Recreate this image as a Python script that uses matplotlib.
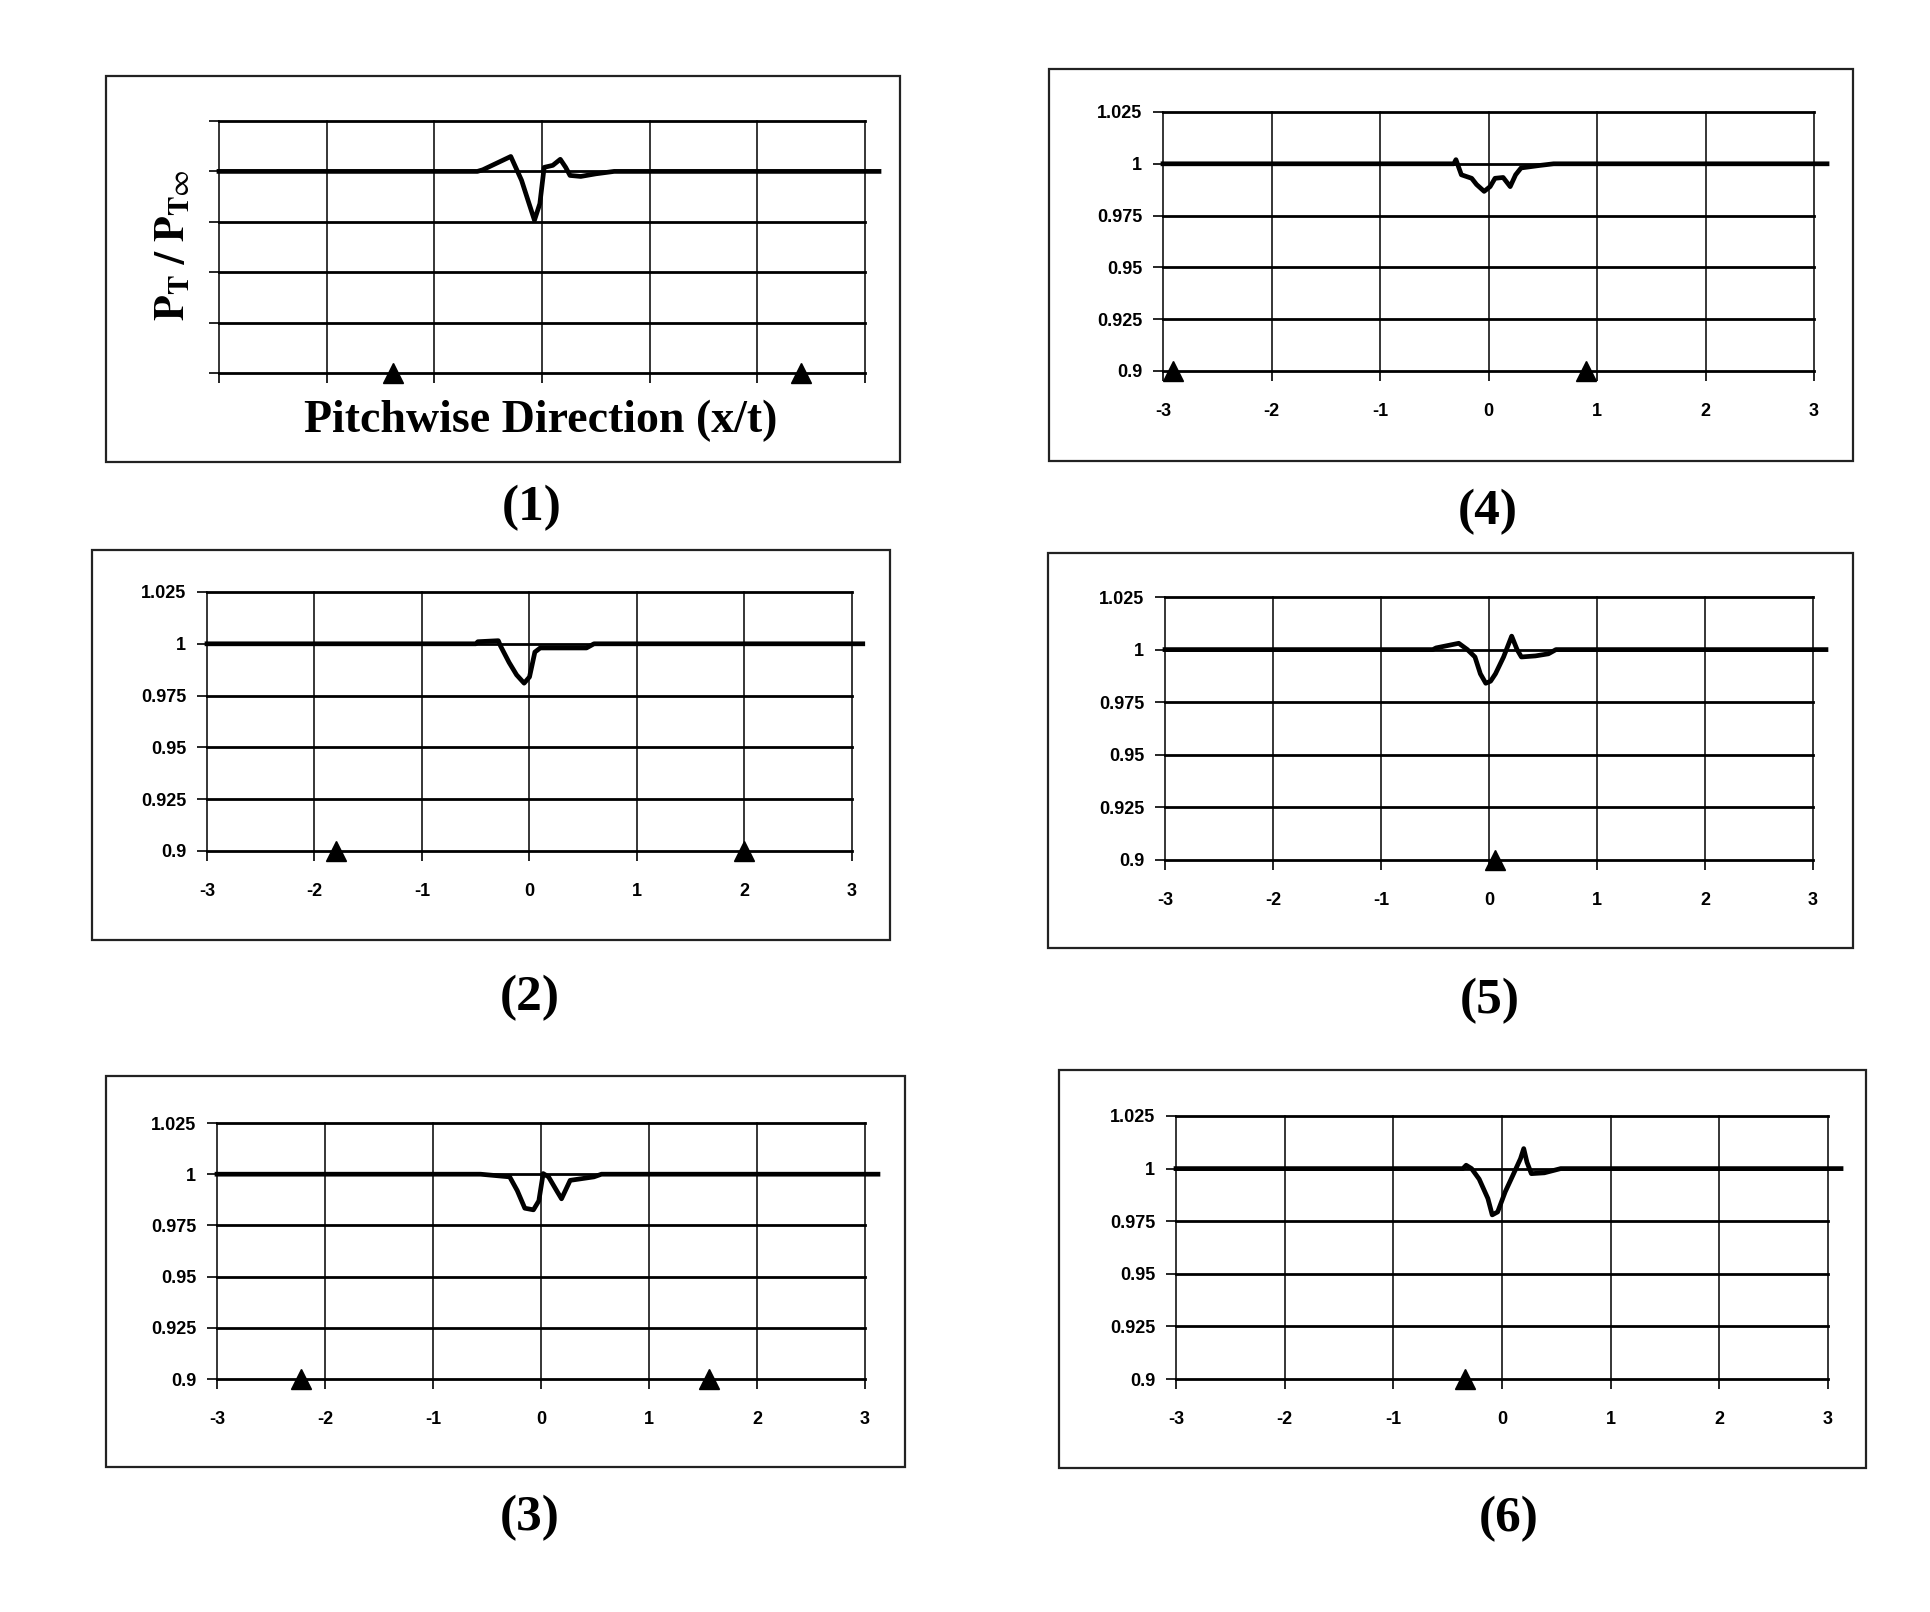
import matplotlib
matplotlib.use("Agg")
import matplotlib.pyplot as plt
from matplotlib.patches import Rectangle

plt.rcParams["mathtext.fontset"] = "stix"

W, H = 1931, 1612

# pitchwise position (x/t) and total pressure ratio for each station
x1 = [-3.0, -0.60, -0.55, -0.29, -0.19, -0.12, -0.07, -0.02, 0.02, 0.10, 0.17, 0.22, 0.26, 0.36, 0.50, 0.67, 3.13]
y1 = [1.0, 1.0, 1.0008, 1.0074, 0.9956, 0.984, 0.9758, 0.984, 1.002, 1.003, 1.006, 1.002, 0.998, 0.9975, 0.9988, 1.0, 1.0]

x2 = [-3.0, -0.50, -0.48, -0.29, -0.27, -0.19, -0.12, -0.05, 0.0, 0.05, 0.10, 0.53, 0.60, 3.10]
y2 = [1.0, 1.0, 1.001, 1.0015, 0.999, 0.991, 0.985, 0.981, 0.984, 0.996, 0.998, 0.998, 1.0, 1.0]

x3 = [-3.0, -0.56, -0.29, -0.22, -0.15, -0.07, -0.02, 0.02, 0.07, 0.15, 0.19, 0.27, 0.49, 0.56, 3.12]
y3 = [1.0, 1.0, 0.9987, 0.992, 0.9834, 0.9826, 0.987, 1.0003, 0.9987, 0.9915, 0.988, 0.997, 0.9987, 1.0, 1.0]

x4 = [-3.0, -0.32, -0.30, -0.25, -0.155, -0.11, -0.04, 0.015, 0.06, 0.135, 0.20, 0.25, 0.30, 0.47, 0.60, 3.12]
y4 = [1.0, 1.0, 1.002, 0.9947, 0.993, 0.990, 0.9867, 0.989, 0.993, 0.9934, 0.989, 0.9947, 0.998, 0.9992, 1.0, 1.0]

x5 = [-3.0, -0.52, -0.49, -0.28, -0.20, -0.13, -0.08, -0.03, 0.015, 0.06, 0.135, 0.21, 0.26, 0.30, 0.43, 0.55, 0.62, 3.12]
y5 = [1.0, 1.0, 1.0008, 1.003, 1.0, 0.9965, 0.9885, 0.984, 0.985, 0.9885, 0.9965, 1.0064, 1.0, 0.9965, 0.997, 0.998, 1.0, 1.0]

x6 = [-3.0, -0.36, -0.33, -0.28, -0.21, -0.13, -0.09, -0.04, 0.03, 0.10, 0.17, 0.20, 0.23, 0.27, 0.39, 0.54, 3.12]
y6 = [1.0, 1.0, 1.0016, 1.0, 0.995, 0.9858, 0.978, 0.9794, 0.989, 0.9968, 1.0047, 1.0095, 1.003, 0.9976, 0.998, 1.0, 1.0]

# blade positions (triangles on the 0.9 line)
tri1 = [-1.38, 2.41]
tri2 = [-1.80, 2.00]
tri3 = [-2.22, 1.56]
tri4 = [-2.91, 0.90]
tri5 = [0.06]
tri6 = [-0.34]

xticks = [-3, -2, -1, 0, 1, 2, 3]
yticks = [0.9, 0.925, 0.95, 0.975, 1.0, 1.025]
ytick_labels = ["0.9", "0.925", "0.95", "0.975", "1", "1.025"]
captions = ["(1)", "(2)", "(3)", "(4)", "(5)", "(6)"]

# pixel boxes: plot area, outer frame, caption centre
plot_px = [(219, 121, 865, 373), (207, 592, 852, 851), (217, 1123, 865, 1379),
           (1163, 112, 1814, 371), (1165, 597, 1813, 860), (1176, 1116, 1828, 1379)]
frame_px = [(106, 76, 900, 462), (92, 550, 890, 940), (106, 1076, 905, 1467),
            (1049, 69, 1853, 461), (1048, 553, 1853, 948), (1059, 1070, 1866, 1468)]
cap_px = [(532, 508), (530, 998), (530, 1518), (1488, 512), (1490, 1001), (1509, 1519)]

series = [(x1, y1, tri1), (x2, y2, tri2), (x3, y3, tri3),
          (x4, y4, tri4), (x5, y5, tri5), (x6, y6, tri6)]

fig = plt.figure(figsize=(W / 100, H / 100), dpi=100)


def fig_box(l, t, r, b):
    return [l / W, 1 - b / H, (r - l) / W, (b - t) / H]


for i, (xs, ys, tri) in enumerate(series):
    ax = fig.add_axes(fig_box(*plot_px[i]))
    ax.set_xlim(-3, 3)
    ax.set_ylim(0.9, 1.025)
    for s in ax.spines.values():
        s.set_visible(False)
    for yv in yticks:
        ax.axhline(yv, color="black", lw=2.0, zorder=1, clip_on=False)
    for xv in xticks:
        ax.axvline(xv, color="black", lw=1.1, zorder=1, clip_on=False)
    ax.plot(xs, ys, color="black", lw=3.4, zorder=3, clip_on=False)
    ax.plot(tri, [0.9] * len(tri), linestyle="none", marker="^", ms=15,
            color="black", zorder=4, clip_on=False)
    ax.set_xticks(xticks)
    ax.set_yticks(yticks)
    ax.tick_params(direction="out", length=7, width=1.2, color="black")
    ax.tick_params(axis="x", pad=16)
    ax.tick_params(axis="y", pad=8)
    if i == 0:
        ax.set_xticklabels([])
        ax.set_yticklabels([])
    else:
        ax.set_xticklabels([str(v) for v in xticks], fontsize=13,
                           fontweight="bold", family="Liberation Sans")
        ax.set_yticklabels(ytick_labels, fontsize=13,
                           fontweight="bold", family="Liberation Sans")

    l, t, r, b = frame_px[i]
    fig.add_artist(Rectangle((l / W, 1 - b / H), (r - l) / W, (b - t) / H,
                             transform=fig.transFigure, fill=False,
                             edgecolor="#222222", lw=1.6))
    cx, cy = cap_px[i]
    fig.text(cx / W, 1 - cy / H, captions[i], ha="center", va="center",
             fontsize=37, fontweight="bold", family="Liberation Serif")

# axis titles only on the first panel
fig.text(541 / W, 1 - 421 / H, "Pitchwise Direction (x/t)", ha="center",
         va="center", fontsize=33, fontweight="bold", family="Liberation Serif")
fig.text(172 / W, 1 - 245 / H,
         r"$\mathbf{P}_{\mathbf{T}}\ \mathbf{/}\ \mathbf{P}_{\mathbf{T}\infty}$",
         ha="center", va="center", rotation=90, fontsize=30)

fig.savefig("out.png", dpi=100, facecolor="white")
